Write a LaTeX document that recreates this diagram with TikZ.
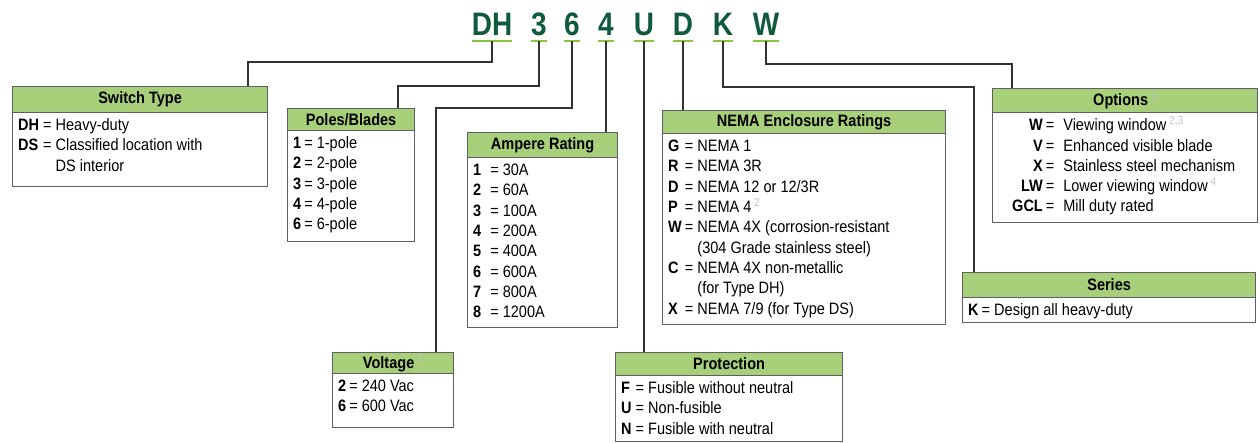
\documentclass[tikz,border=0pt]{standalone}
\usepackage{fontspec}
\setmainfont[FakeStretch=0.88]{Liberation Sans}
\newfontfamily\codefont[FakeStretch=0.86]{Liberation Sans}
\usepackage{array}
\definecolor{hdrgreen}{RGB}{168,207,122}
\definecolor{codegreen}{RGB}{16,90,60}
\definecolor{ulgreen}{RGB}{140,198,63}
\definecolor{boxgray}{RGB}{95,95,95}
\definecolor{linegray}{RGB}{50,50,50}
\definecolor{fnote}{RGB}{195,195,195}
\newcommand{\fnmark}[1]{\,\textsuperscript{\color{fnote}\mdseries #1}}
\newcommand{\infobox}[8]{%
  \node[bbox,minimum width=#4pt,minimum height=#6pt] (#1) at (#2,#3) {};
  \node[hdr,minimum width=#4pt,minimum height=#5pt] (#1-h) at (#2,#3) {#7};
  \node[btext] (#1-t) at ([xshift=6pt,yshift=-3pt]#1-h.south west) {#8};
}
\begin{document}
\begin{tikzpicture}[x=1pt,y=-1pt,
  hdr/.style={draw=boxgray,line width=1.2pt,fill=hdrgreen,anchor=north west,inner sep=0pt,font=\fontsize{16.5}{20}\selectfont\bfseries},
  bbox/.style={draw=boxgray,line width=1.2pt,fill=white,anchor=north west,inner sep=0pt},
  btext/.style={anchor=north west,inner sep=0pt,font=\fontsize{16.5}{20.3}\selectfont,align=left},
  code/.style={anchor=base,inner sep=0pt,font=\codefont\fontsize{32.5}{32}\selectfont\bfseries,text=codegreen},
  uline/.style={draw=ulgreen,line width=1.6pt},
  conn/.style={draw=linegray,line width=1.4pt}]
\useasboundingbox (0,0) rectangle (1260,443);

% code letters
\node[code] (cDH) at (492,36) {DH};
\node[code] (c3) at (539,36) {3};
\node[code] (c6) at (572,36) {6};
\node[code] (c4) at (606,36) {4};
\node[code] (cU) at (644,36) {U};
\node[code] (cD) at (683,36) {D};
\node[code] (cK) at (723,36) {K};
\node[code] (cW) at (766,36) {W};
\foreach \n in {cDH,c3,c6,c4,cU,cD,cK,cW}
  \draw[uline] ([yshift=-5pt]\n.base west) -- ([yshift=-5pt]\n.base east);

% boxes
\infobox{sw}{12}{86}{255}{26}{100}{Switch Type}{%
\begin{tabular}{@{}l@{\hspace{4pt}}l@{}}
\textbf{DH} & = Heavy-duty\\
\textbf{DS} & = Classified location with\\
 & \phantom{= }DS interior
\end{tabular}}

\infobox{pb}{287}{108}{127}{22}{133}{Poles/Blades}{%
\begin{tabular}{@{}l@{\hspace{3pt}}l@{}}
\textbf{1} & = 1-pole\\
\textbf{2} & = 2-pole\\
\textbf{3} & = 3-pole\\
\textbf{4} & = 4-pole\\
\textbf{6} & = 6-pole
\end{tabular}}

\infobox{amp}{467}{132}{150}{25}{195}{Ampere Rating}{%
\begin{tabular}{@{}l@{\hspace{9pt}}l@{}}
\textbf{1} & = 30A\\
\textbf{2} & = 60A\\
\textbf{3} & = 100A\\
\textbf{4} & = 200A\\
\textbf{5} & = 400A\\
\textbf{6} & = 600A\\
\textbf{7} & = 800A\\
\textbf{8} & = 1200A
\end{tabular}}

\infobox{vo}{332}{352}{121}{21}{75}{Voltage\fnmark{1}}{%
\begin{tabular}{@{}l@{\hspace{3pt}}l@{}}
\textbf{2} & = 240 Vac\\
\textbf{6} & = 600 Vac
\end{tabular}}

\infobox{pr}{615}{352}{227}{23}{89}{Protection}{%
\begin{tabular}{@{}l@{\hspace{4pt}}l@{}}
\textbf{F} & = Fusible without neutral\\
\textbf{U} & = Non-fusible\\
\textbf{N} & = Fusible with neutral
\end{tabular}}

\infobox{ne}{662}{110}{283}{23}{214}{NEMA Enclosure Ratings}{%
\begin{tabular}{@{}l@{\hspace{3pt}}l@{}}
\textbf{G} & = NEMA 1\\
\textbf{R} & = NEMA 3R\\
\textbf{D} & = NEMA 12 or 12/3R\\
\textbf{P} & = NEMA 4\fnmark{2}\\
\textbf{W} & = NEMA 4X (corrosion-resistant\\
 & \phantom{= }(304 Grade stainless steel)\\
\textbf{C} & = NEMA 4X non-metallic\\
 & \phantom{= }(for Type DH)\\
\textbf{X} & = NEMA 7/9 (for Type DS)
\end{tabular}}

\infobox{op}{992}{88}{265}{24}{134}{Options\fnmark{1}}{%
\begin{tabular}{@{\hspace{14pt}}r@{\hspace{3pt}}l@{\hspace{9pt}}l@{}}
\textbf{W} & = & Viewing window\fnmark{2,3}\\
\textbf{V} & = & Enhanced visible blade\\
\textbf{X} & = & Stainless steel mechanism\\
\textbf{LW} & = & Lower viewing window\fnmark{4}\\
\textbf{GCL} & = & Mill duty rated
\end{tabular}}

\infobox{se}{962}{272}{293}{25}{50}{Series}{%
\begin{tabular}{@{}l@{\hspace{3pt}}l@{}}
\textbf{K} & = Design all heavy-duty
\end{tabular}}

% bend points
\coordinate (kDH) at (248,62);
\coordinate (k3) at (398,86);
\coordinate (k6) at (436,108);
\coordinate (kK) at (974,87);
\coordinate (kW) at (1012,64);

% connectors
\draw[conn] ([yshift=-5pt]cDH.base) |- (kDH) -- (kDH |- sw-h.north);
\draw[conn] ([yshift=-5pt]c3.base) |- (k3) -- (k3 |- pb-h.north);
\draw[conn] ([yshift=-5pt]c6.base) |- (k6) -- (k6 |- vo-h.north);
\draw[conn] ([yshift=-5pt]c4.base) -- (c4.base |- amp-h.north);
\draw[conn] ([yshift=-5pt]cU.base) -- (cU.base |- pr-h.north);
\draw[conn] ([yshift=-5pt]cD.base) -- (cD.base |- ne-h.north);
\draw[conn] ([yshift=-5pt]cK.base) |- (kK) -- (kK |- se-h.north);
\draw[conn] ([yshift=-5pt]cW.base) |- (kW) -- (kW |- op-h.north);
\end{tikzpicture}
\end{document}
